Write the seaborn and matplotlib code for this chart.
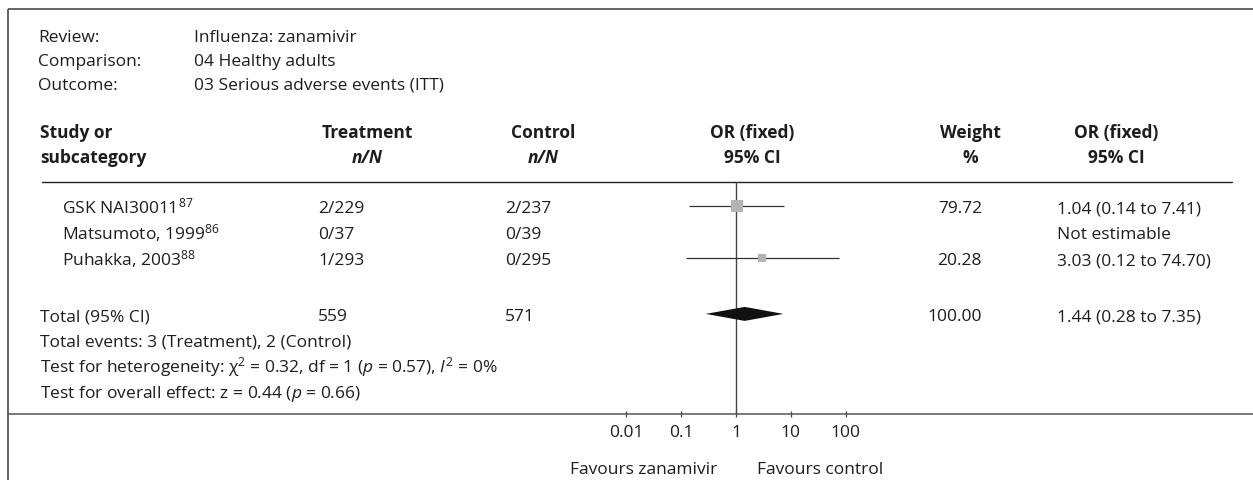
import matplotlib
matplotlib.use("Agg")
import matplotlib.pyplot as plt
import seaborn as sns
import pandas as pd

# ---------------- data ----------------
review = "Influenza: zanamivir"
comparison = "04 Healthy adults"
outcome = "03 Serious adverse events (ITT)"

studies = ["GSK NAI30011", "Matsumoto, 1999", "Puhakka, 2003"]
refs = ["87", "86", "88"]
treat_events = [2, 0, 1]
treat_total = [229, 37, 293]
ctrl_events = [2, 0, 0]
ctrl_total = [237, 39, 295]
weights = [79.72, None, 20.28]
or_est = [1.04, None, 3.03]
or_lo = [0.14, None, 0.12]
or_hi = [7.41, None, 74.70]

pooled_weight = 100.00
pooled_or = 1.44
pooled_lo = 0.28
pooled_hi = 7.35
chi2, df_het, p_het, i2 = 0.32, 1, 0.57, 0
z_overall, p_overall = 0.44, 0.66

tick_values = [0.01, 0.1, 1, 10, 100]
tick_labels = ["0.01", "0.1", "1", "10", "100"]
favours_left = "Favours zanamivir"
favours_right = "Favours control"

# ---------------- style ----------------
sns.set_theme(style="white")
FONT = "Open Sans"
plt.rcParams["font.family"] = [FONT, "DejaVu Sans"]
plt.rcParams["mathtext.fontset"] = "custom"
plt.rcParams["mathtext.rm"] = FONT
plt.rcParams["mathtext.it"] = FONT + ":italic"
plt.rcParams["mathtext.bf"] = FONT + ":bold"
plt.rcParams["mathtext.fallback"] = "stixsans"

TXT = "#1f1c1d"
FS = 12.5
W, H, DPI = 1253, 481, 100

fig = plt.figure(figsize=(W / DPI, H / DPI), dpi=DPI)
fig.patch.set_facecolor("white")

# page layer in pixel units (y grows downward)
bg = fig.add_axes([0, 0, 1, 1])
bg.set_xlim(0, W)
bg.set_ylim(H, 0)
bg.axis("off")

def put(x, y, s, ha="left", bold=False, italic=False, size=FS):
    bg.text(x, y, s, ha=ha, va="baseline", fontsize=size, color=TXT,
            fontweight="bold" if bold else "normal",
            fontstyle="italic" if italic else "normal")

# frame
bg.plot([8, 8], [10, H], color="#3a3a3a", lw=1.1, solid_capstyle="butt")
bg.plot([8, W], [10, 10], color="#3a3a3a", lw=1.1, solid_capstyle="butt")

# review info
for i, (k, v) in enumerate([("Review:", review), ("Comparison:", comparison),
                            ("Outcome:", outcome)]):
    y = 41.5 + 24 * i
    put(38, y, k)
    put(194, y, v)

# column headers
H1, H2 = 138, 163
put(40, H1, "Study or", bold=True)
put(40, H2, "subcategory", bold=True)
put(367, H1, "Treatment", ha="center", bold=True)
put(367, H2, "n/N", ha="center", bold=True, italic=True)
put(543, H1, "Control", ha="center", bold=True)
put(543, H2, "n/N", ha="center", bold=True, italic=True)
put(752, H1, "OR (fixed)", ha="center", bold=True)
put(752, H2, "95% CI", ha="center", bold=True)
put(970, H1, "Weight", ha="center", bold=True)
put(970, H2, "%", ha="center", bold=True)
put(1116, H1, "OR (fixed)", ha="center", bold=True)
put(1116, H2, "95% CI", ha="center", bold=True)
bg.plot([42, 1232], [183, 183], color="#222222", lw=1.0)

# row geometry
ROW0, PITCH, BASE = 207, 26, 6.2
TOTAL_ROW = 4.15

def row_y(r):
    return ROW0 + PITCH * r

# study rows
for i, name in enumerate(studies):
    yb = row_y(i) + BASE
    put(62, yb, f"{name}$^{{{refs[i]}}}$")
    put(318, yb, f"{treat_events[i]}/{treat_total[i]}")
    put(505, yb, f"{ctrl_events[i]}/{ctrl_total[i]}")
    if weights[i] is not None:
        put(982, yb, f"{weights[i]:.2f}", ha="right")
        put(1057, yb, f"{or_est[i]:.2f} ({or_lo[i]:.2f} to {or_hi[i]:.2f})")
    else:
        put(1057, yb, "Not estimable")

# totals
yb = row_y(TOTAL_ROW) + BASE
put(40, yb, "Total (95% CI)")
put(318, yb, f"{sum(treat_total)}")
put(505, yb, f"{sum(ctrl_total)}")
put(982, yb, f"{pooled_weight:.2f}", ha="right")
put(1057, yb, f"{pooled_or:.2f} ({pooled_lo:.2f} to {pooled_hi:.2f})")
put(40, 340 + BASE,
    f"Total events: {sum(treat_events)} (Treatment), {sum(ctrl_events)} (Control)")
put(40, 366 + BASE,
    f"Test for heterogeneity: \u03c7$^2$ = {chi2:.2f}, df = {df_het} "
    f"($p$ = {p_het:.2f}), $I^2$ = {i2}%")
put(40, 392 + BASE,
    f"Test for overall effect: z = {z_overall:.2f} ($p$ = {p_overall:.2f})")

# ---------------- forest panel ----------------
X_LEFT, Y_TOP, Y_AXIS = 8, 183, 415
X_ONE, PX_DECADE = 736, 54.8
ax = fig.add_axes([X_LEFT / W, 1 - Y_AXIS / H, (W - X_LEFT) / W, (Y_AXIS - Y_TOP) / H])
ax.set_facecolor("none")
ax.set_xscale("log")
ax.set_xlim(10 ** ((X_LEFT - X_ONE) / PX_DECADE), 10 ** ((W - X_ONE) / PX_DECADE))
ax.set_ylim((Y_AXIS - ROW0) / PITCH, (Y_TOP - ROW0) / PITCH)

est = pd.DataFrame({
    "row": [i for i in range(len(studies)) if or_est[i] is not None],
    "or": [v for v in or_est if v is not None],
    "lo": [v for v in or_lo if v is not None],
    "hi": [v for v in or_hi if v is not None],
    "w": [v for v in weights if v is not None],
})

ax.axvline(1, color="#444444", lw=1.0, zorder=1)
ax.hlines(est["row"], est["lo"], est["hi"], color="#333333", lw=0.9, zorder=2)
sns.scatterplot(data=est, x="or", y="row", size="w", sizes=(33, 75), marker="s",
                color="#b4b4b4", edgecolor="none", legend=False, ax=ax, zorder=3)

h = 7 / PITCH
ax.fill([pooled_lo, pooled_or, pooled_hi, pooled_or],
        [TOTAL_ROW, TOTAL_ROW - h, TOTAL_ROW, TOTAL_ROW + h],
        color="#111111", lw=0, zorder=3)

for side in ("top", "left", "right"):
    ax.spines[side].set_visible(False)
ax.spines["bottom"].set_color("#555555")
ax.spines["bottom"].set_linewidth(1.1)
ax.set_yticks([])
ax.set_xticks(tick_values)
ax.set_xticklabels(tick_labels)
ax.minorticks_off()
ax.tick_params(axis="x", direction="inout", length=5, width=0.9, color="#444444",
               pad=5, labelsize=FS, labelcolor=TXT, bottom=True)
ax.set_xlabel("")
ax.set_ylabel("")

put(717, 468 + BASE, favours_left, ha="right")
put(757, 468 + BASE, favours_right, ha="left")

fig.savefig("out.png", dpi=DPI, facecolor="white")
